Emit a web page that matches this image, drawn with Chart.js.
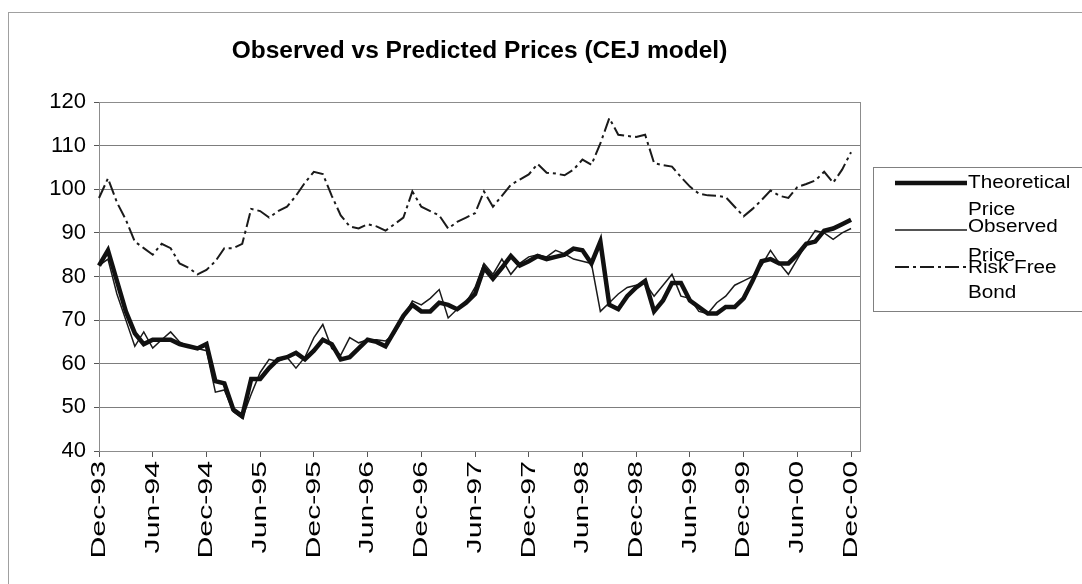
<!DOCTYPE html>
<html>
<head>
<meta charset="utf-8">
<script src="https://cdn.jsdelivr.net/npm/chart.js@4.4.1/dist/chart.umd.min.js"></script>
<style>
  html, body { margin: 0; padding: 0; background: #fff; }
  #wrap { position: relative; width: 1082px; height: 584px; overflow: hidden; }
  #frame { position: absolute; left: 8px; top: 12px; width: 1200px; height: 700px; border: 1px solid #a0a0a0; box-sizing: border-box; }
  canvas { position: absolute; left: 0; top: 0; }
</style>
</head>
<body>
<div id="wrap">
  <div id="frame"></div>
  <canvas id="c" width="1082" height="584"></canvas>
</div>
<script>
const chartTitle = 'Observed vs Predicted Prices (CEJ model)';

const categories = [
  'Dec-93',
  'Jan-94','Feb-94','Mar-94','Apr-94','May-94','Jun-94','Jul-94','Aug-94','Sep-94','Oct-94','Nov-94','Dec-94',
  'Jan-95','Feb-95','Mar-95','Apr-95','May-95','Jun-95','Jul-95','Aug-95','Sep-95','Oct-95','Nov-95','Dec-95',
  'Jan-96','Feb-96','Mar-96','Apr-96','May-96','Jun-96','Jul-96','Aug-96','Sep-96','Oct-96','Nov-96','Dec-96',
  'Jan-97','Feb-97','Mar-97','Apr-97','May-97','Jun-97','Jul-97','Aug-97','Sep-97','Oct-97','Nov-97','Dec-97',
  'Jan-98','Feb-98','Mar-98','Apr-98','May-98','Jun-98','Jul-98','Aug-98','Sep-98','Oct-98','Nov-98','Dec-98',
  'Jan-99','Feb-99','Mar-99','Apr-99','May-99','Jun-99','Jul-99','Aug-99','Sep-99','Oct-99','Nov-99','Dec-99',
  'Jan-00','Feb-00','Mar-00','Apr-00','May-00','Jun-00','Jul-00','Aug-00','Sep-00','Oct-00','Nov-00','Dec-00',
  'Jan-01'
];

const tickLabels = ['Dec-93','Jun-94','Dec-94','Jun-95','Dec-95','Jun-96','Dec-96','Jun-97','Dec-97','Jun-98','Dec-98','Jun-99','Dec-99','Jun-00','Dec-00'];

const seriesNames = [['Theoretical', 'Price'], ['Observed', 'Price'], ['Risk Free', 'Bond']];

const theoretical = [
  82.5, 86, 79, 72, 67, 64.5, 65.5, 65.5, 65.5, 64.5, 64, 63.5,
  64.5, 56, 55.5, 49.5, 48, 56.5, 56.5, 59, 61, 61.5, 62.5, 61,
  63, 65.5, 64.5, 61, 61.5, 63.5, 65.5, 65, 64, 67.5, 71, 73.5,
  72, 72, 74, 73.5, 72.5, 74, 76, 82, 79.5, 82, 84.7, 82.5,
  83.5, 84.7, 84, 84.5, 85, 86.4, 86, 83, 88, 73.5, 72.5, 75.5,
  77.5, 79, 72, 74.5, 78.5, 78.5, 74.5, 73, 71.5, 71.5, 73, 73,
  75, 79, 83.5, 84, 83, 83, 85, 87.5, 88, 90.5, 91, 92,
  93
];

const observed = [
  82.5, 84, 76, 70, 64, 67.3, 63.6, 65.5, 67.3, 65, 64, 63.5,
  63, 53.5, 54, 49, 47.5, 53, 58, 61, 60.5, 61.5, 59, 61.5,
  66, 69, 63.5, 62, 66, 64.8, 65.5, 65.5, 65.2, 67, 70.5, 74.4,
  73.5, 75, 77, 70.5, 72.5, 74, 77.5, 83, 80.5, 84, 80.5, 83,
  84.5, 85, 84.5, 86, 85.2, 84, 83.5, 83, 72, 74, 76, 77.5,
  78, 78.5, 75.5, 78, 80.5, 75.5, 75, 72, 71.5, 74, 75.5, 78,
  79, 80, 82.5, 86, 83, 80.5, 84, 87.5, 90.5, 90, 88.5, 90,
  91
];

const riskFree = [
  98, 102.5, 97, 93, 88, 86.5, 85, 87.5, 86.5, 83, 82, 80.5,
  81.5, 83.5, 86.5, 86.5, 87.5, 95.5, 95, 93.5, 95, 96, 98.5, 101.5,
  104, 103.5, 98.5, 94, 91.5, 91, 92, 91.5, 90.5, 92, 93.5, 99.5,
  96, 95, 94, 91, 92.5, 93.5, 94.5, 99.5, 96, 98.5, 101, 102.2,
  103.4, 105.8, 103.8, 103.6, 103.2, 104.5, 106.8, 105.6, 110.5, 116.3, 112.5, 112.2,
  112, 112.5, 106, 105.5, 105.2, 102.8, 100.6, 99, 98.6, 98.5, 98.2, 96,
  93.8, 95.5, 97.5, 99.7, 98.5, 98, 100.5, 101.2, 102, 104, 101.5, 104.5,
  108.5
];

const yTicks = [40, 50, 60, 70, 80, 90, 100, 110, 120];

const FONT = '"Liberation Sans", Arial, Helvetica, sans-serif';

const frameAndLegend = {
  id: 'frameAndLegend',
  beforeDatasetsDraw(chart) {
    const ctx = chart.ctx, a = chart.chartArea;
    ctx.save();
    ctx.strokeStyle = '#8c8c8c';
    ctx.lineWidth = 1;
    ctx.strokeRect(Math.round(a.left) + 0.5, Math.round(a.top) + 0.5, Math.round(a.right - a.left), Math.round(a.bottom - a.top));
    ctx.restore();
  },
  afterDraw(chart) {
    const ctx = chart.ctx;
    ctx.save();
    ctx.strokeStyle = '#808080';
    ctx.lineWidth = 1;
    ctx.strokeRect(873.5, 167.5, 400, 144);
    const rows = [
      { ds: 0, lineY: 183, texts: [188, 215] },
      { ds: 1, lineY: 230, texts: [232, 261] },
      { ds: 2, lineY: 267, texts: [273, 298] }
    ];
    rows.forEach(r => {
      const d = chart.data.datasets[r.ds];
      ctx.save();
      ctx.strokeStyle = d.borderColor;
      ctx.lineWidth = d.borderWidth;
      ctx.setLineDash(d.borderDash || []);
      ctx.beginPath();
      ctx.moveTo(895, r.lineY);
      ctx.lineTo(967, r.lineY);
      ctx.stroke();
      ctx.restore();
      seriesNames[r.ds].forEach((t, i) => {
        ctx.save();
        ctx.fillStyle = '#000';
        ctx.font = '18px ' + FONT;
        ctx.textBaseline = 'alphabetic';
        ctx.textAlign = 'left';
        ctx.translate(968, r.texts[i]);
        ctx.scale(1.15, 1);
        ctx.fillText(t, 0, 0);
        ctx.restore();
      });
    });
    ctx.restore();
  }
};

function stretchXLabels(scale) {
  if (scale._stretched) return;
  scale._stretched = true;
  const orig = scale.drawLabels.bind(scale);
  scale.drawLabels = function (area) {
    const ctx = this.ctx;
    const anchor = this.top + 10;
    ctx.save();
    ctx.translate(0, anchor);
    ctx.scale(1, 1.44);
    ctx.translate(0, -anchor);
    orig(area);
    ctx.restore();
  };
}

new Chart(document.getElementById('c'), {
  type: 'line',
  data: {
    labels: categories,
    datasets: [
      { label: seriesNames[0].join(' '), data: theoretical, borderColor: '#111', borderWidth: 4.5, pointRadius: 0, tension: 0, fill: false },
      { label: seriesNames[1].join(' '), data: observed, borderColor: '#1a1a1a', borderWidth: 1.5, pointRadius: 0, tension: 0, fill: false },
      { label: seriesNames[2].join(' '), data: riskFree, borderColor: '#1a1a1a', borderWidth: 2, borderDash: [14, 4, 3, 4], pointRadius: 0, tension: 0, fill: false }
    ]
  },
  options: {
    responsive: false,
    animation: false,
    devicePixelRatio: 1,
    layout: { padding: { left: 0, right: 222, top: 0, bottom: 0 } },
    plugins: {
      legend: { display: false },
      tooltip: { enabled: false },
      title: {
        display: true,
        text: chartTitle,
        fullSize: false,
        color: '#000',
        font: { family: FONT, size: 24.5, weight: 'bold', lineHeight: 1.2 },
        padding: { top: 36.3, bottom: 36.3 }
      }
    },
    scales: {
      x: {
        type: 'category',
        offset: false,
        afterBuildTicks(scale) {
          scale.ticks = scale.ticks.filter(t => tickLabels.includes(categories[t.value]));
        },
        afterFit(scale) { scale.height = 133; stretchXLabels(scale); },
        grid: { drawOnChartArea: false, drawTicks: true, tickLength: 6, color: '#555', tickWidth: 1 },
        border: { display: true, color: '#666', width: 1 },
        ticks: {
          autoSkip: false,
          maxRotation: 90,
          minRotation: 90,
          padding: 4,
          color: '#000',
          font: { family: FONT, size: 21 },
          callback(value) { return categories[value]; }
        }
      },
      y: {
        min: 40,
        max: 120,
        afterBuildTicks(scale) { scale.ticks = yTicks.map(v => ({ value: v })); },
        afterFit(scale) { scale.width = 99; },
        grid: { color: '#7d7d7d', lineWidth: 1, drawTicks: true, tickLength: 5, tickColor: '#555' },
        border: { display: true, color: '#666', width: 1 },
        ticks: {
          padding: 8,
          color: '#000',
          font: { family: FONT, size: 22 }
        }
      }
    }
  },
  plugins: [frameAndLegend]
});
</script>
</body>
</html>
